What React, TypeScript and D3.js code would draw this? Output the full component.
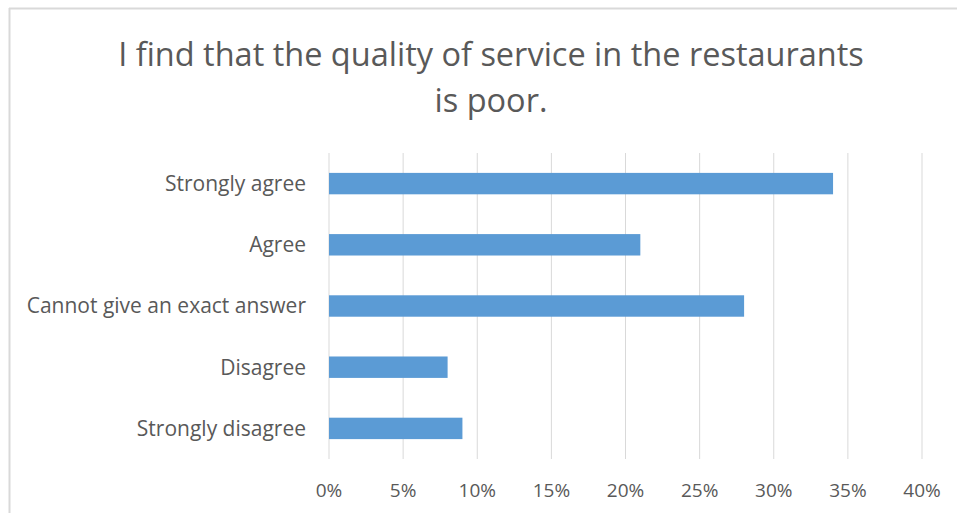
import React from "react";
import * as d3 from "d3";

const categories = ["Strongly agree", "Agree", "Cannot give an exact answer", "Disagree", "Strongly disagree"];
const values = [0.34, 0.21, 0.28, 0.08, 0.09];
const xTicks = [0, 0.05, 0.1, 0.15, 0.2, 0.25, 0.3, 0.35, 0.4];
const titleLines = ["I find that the quality of service in the restaurants", "is poor."];

export default function App() {
  const W = 957, H = 513;
  const x = d3.scaleLinear().domain([0, 0.4]).range([329, 922]);
  const y = d3.scaleBand<string>().domain(categories).range([153, 459]).paddingInner(0.65).paddingOuter(0.325);
  const fmt = d3.format(".0%");
  const font = "'Open Sans', 'Noto Sans', sans-serif";
  return (
    <svg width={W} height={H} style={{ position: "absolute", left: 0, top: 0 }} fontFamily={font}>
      <rect x={0} y={0} width={W} height={H} fill="#fff" />
      <line x1={9.5} x2={9.5} y1={8} y2={H} stroke="#D9D9D9" strokeWidth={2} />
      <line x1={9} x2={W} y1={8.5} y2={8.5} stroke="#D9D9D9" strokeWidth={2} />
      {titleLines.map((t, i) => (
        <text key={i} x={491} y={66 + i * 46} textAnchor="middle" fontSize={32.5} fill="#595959">{t}</text>
      ))}
      {xTicks.map((t) => (
        <line key={t} x1={x(t)} x2={x(t)} y1={153} y2={459} stroke="#D9D9D9" strokeWidth={1} />
      ))}
      {categories.map((c, i) => (
        <rect key={c} x={x(0)} y={y(c)} width={x(values[i]) - x(0)} height={y.bandwidth()} fill="#5B9BD5" />
      ))}
      {categories.map((c) => (
        <text key={c} x={306} y={(y(c) as number) + y.bandwidth() / 2} dy="0.35em" textAnchor="end" fontSize={21} fill="#595959">{c}</text>
      ))}
      {xTicks.map((t) => (
        <text key={t} x={x(t)} y={490} dy="0.35em" textAnchor="middle" fontSize={19} fill="#595959">{fmt(t)}</text>
      ))}
    </svg>
  );
}
